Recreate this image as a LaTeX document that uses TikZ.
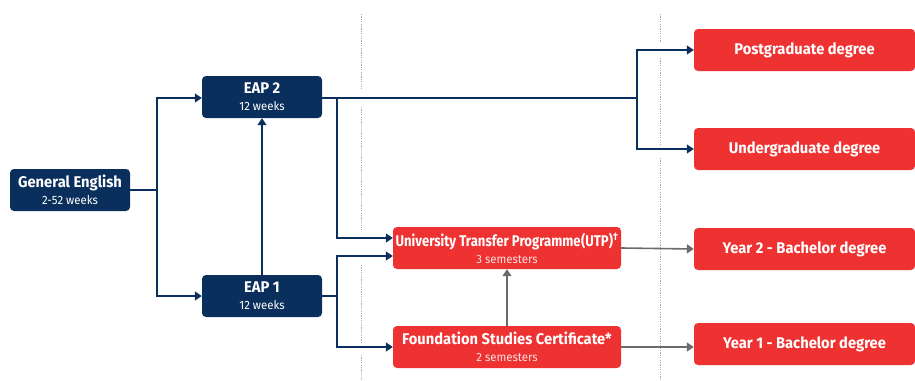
\documentclass[tikz,border=0pt]{standalone}
\usepackage{fontspec}
\setmainfont{Fira Sans}[FakeStretch=0.95]
\usetikzlibrary{arrows.meta}
\definecolor{navy}{HTML}{0A2F5C}
\definecolor{redbox}{HTML}{EE3131}
\definecolor{greyline}{HTML}{6B6B6B}
\definecolor{dotgrey}{HTML}{AAAAAA}
\newcommand\subtxt[1]{{\fontsize{12}{13}\selectfont\mdseries #1}}
\newcommand\redsub[1]{{\fontsize{12}{13}\selectfont\mdseries\color{white!85!redbox}#1}}
\begin{document}
\begin{tikzpicture}[x=1pt,y=-1pt,
  box/.style={rounded corners=4pt,inner sep=0pt,align=center,text=white,font=\fontsize{15.5}{17}\selectfont\bfseries},
  navybox/.style={box,fill=navy,minimum width=120pt,minimum height=42pt},
  redprog/.style={box,fill=redbox,minimum width=228pt,minimum height=42pt},
  reddeg/.style={box,fill=redbox,minimum width=221pt,minimum height=42pt},
  nline/.style={draw=navy,line width=1.5pt},
  narrow/.style={nline,-{Triangle[length=7pt,width=9pt]}},
  garrow/.style={draw=greyline,line width=1.6pt,-{Triangle[length=7pt,width=9pt]}},
  guide/.style={draw=dotgrey,line width=0.9pt,dash pattern=on 1.2pt off 1.2pt}
]
\useasboundingbox (0,0) rectangle (915,380);
% guides
\draw[guide] (361,14) -- (361,89);
\draw[guide] (361,107) -- (361,230);
\draw[guide] (361,265) -- (361,343);
\draw[guide] (361,355) -- (361,380);
\draw[guide] (660,14) -- (660,42);
\draw[guide] (660,58) -- (660,145);
\draw[guide] (660,158) -- (660,380);
% nodes
\node[navybox] (ge) at (70,190) {General English\\\subtxt{2-52 weeks}};
\node[navybox] (eap2) at (262,97) {EAP 2\\\subtxt{12 weeks}};
\node[navybox] (eap1) at (262,296) {EAP 1\\\subtxt{12 weeks}};
\node[redprog] (utp) at (507,248) {\scalebox{0.89}[1]{University Transfer Programme\kern0.5pt(UTP)\textsuperscript{\dag}}\\\redsub{3 semesters}};
\node[redprog] (fsc) at (507,347) {Foundation Studies Certificate*\\\redsub{2 semesters}};
\node[reddeg] (pg) at (804.5,50) {Postgraduate degree};
\node[reddeg] (ug) at (804.5,149) {Undergraduate degree};
\node[reddeg] (y2) at (804.5,249) {Year 2 - Bachelor degree};
\node[reddeg] (y1) at (804.5,344) {Year 1 - Bachelor degree};
% coordinates
\coordinate (j1) at (157,190);
\coordinate (j2) at (337,98);
\coordinate (j3) at (637,98);
\coordinate (j4) at (337,296);
% connectors
\draw[nline] (ge.east) -- (j1);
\draw[narrow] (j1) |- (eap2.west |- 0,98);
\draw[narrow] (j1) |- (eap1.west);
\draw[narrow] (eap1.north) -- (eap2.south);
\draw[nline] (eap2.east |- j2) -- (j3);
\draw[narrow] (j3) |- (pg.west);
\draw[narrow] (j3) |- (ug.west);
\draw[narrow] (j2) |- (utp.west |- 0,238);
\draw[nline] (eap1.east) -- (j4);
\draw[narrow] (j4) |- (utp.west |- 0,256);
\draw[narrow] (j4) |- (fsc.west);
\draw[garrow] (fsc.north) -- (utp.south);
\draw[garrow] (utp.east) -- (y2.west);
\draw[garrow] (fsc.east) -- (y1.west |- fsc.east);
\end{tikzpicture}
\end{document}
